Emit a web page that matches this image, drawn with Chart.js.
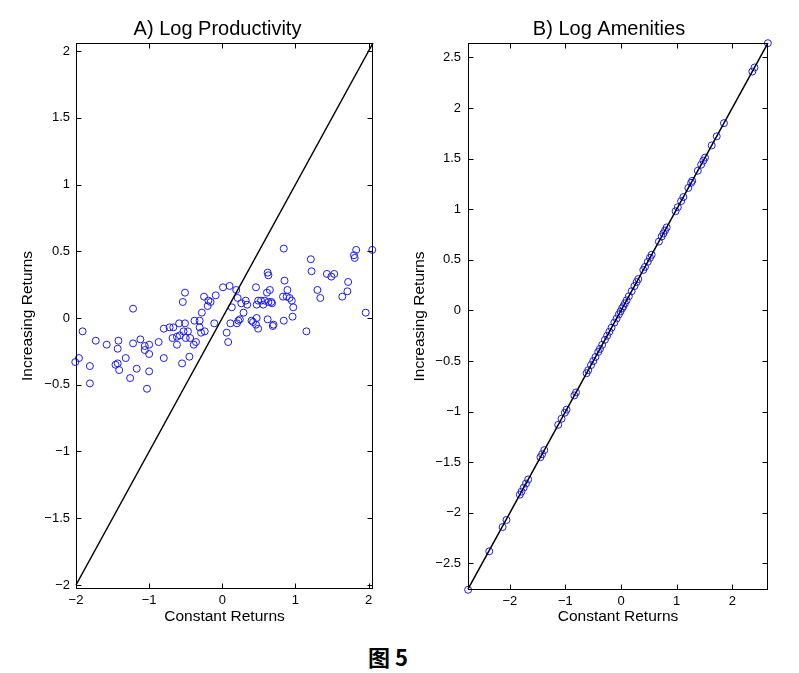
<!DOCTYPE html>
<html>
<head>
<meta charset="utf-8">
<script src="https://cdn.jsdelivr.net/npm/chart.js@4/dist/chart.umd.min.js"></script>
<style>
  body { margin: 0; background: #fff; width: 799px; height: 673px; overflow: hidden; position: relative; }
  canvas { position: absolute; top: 0; }
  #chartA { left: 0; }
  #chartB { left: 400px; }
  #caption { position: absolute; left: 0; width: 776px; top: 640px; text-align: center;
             font: bold 22px "Noto Sans CJK SC", sans-serif; color: #000; }
</style>
</head>
<body>
<canvas id="chartA" width="400" height="640"></canvas>
<canvas id="chartB" width="399" height="640"></canvas>
<div id="caption">图 5</div>
<script>
// A) Log Productivity: constant returns (x) vs increasing returns (y)
const prodX = [-2.01,-1.96,-1.91,-1.81,-1.81,-1.73,-1.58,-1.46,-1.43,-1.41,-1.42,-1.43,-1.32,-1.26,-1.22,-1.22,-1.17,-1.12,-1.06,-1.06,-1.03,-1.00,-1.00,-1.00,-0.87,-0.80,-0.80,
  -0.51,-0.54,-0.25,-0.19,-0.16,-0.09,-0.20,-0.28,-0.38,-0.31,-0.11,-0.72,-0.67,-0.59,-0.51,-0.53,-0.47,-0.68,-0.62,-0.58,-0.50,-0.44,-0.31,-0.29,-0.24,-0.62,-0.36,-0.39,-0.45,-0.55,
  0.01,0.10,0.19,0.21,0.26,0.32,0.34,0.29,0.24,0.22,0.20,0.11,0.40,0.42,0.47,0.46,0.49,0.06,0.08,0.46,0.47,0.53,0.56,0.58,0.62,0.63,0.61,0.65,0.62,0.69,0.67,0.63,0.68,0.13,0.49,
  0.84,1.21,1.83,1.80,1.81,2.05,1.22,1.43,1.49,1.53,1.72,1.71,1.30,1.34,1.64,0.85,0.89,0.83,0.88,0.92,0.95,0.97,0.96,0.84,0.70,1.15,1.96];
const prodY = [-0.33,-0.30,-0.10,-0.36,-0.49,-0.17,-0.20,-0.35,-0.34,-0.39,-0.17,-0.23,-0.30,-0.45,0.07,-0.19,-0.38,-0.16,-0.21,-0.24,-0.53,-0.20,-0.27,-0.40,-0.18,-0.08,-0.30,
  0.19,0.12,0.16,0.13,0.12,0.17,0.09,0.04,-0.02,-0.02,-0.04,-0.07,-0.07,-0.04,-0.04,-0.10,-0.10,-0.15,-0.14,-0.13,-0.15,-0.15,-0.07,-0.11,-0.10,-0.20,-0.18,-0.20,-0.29,-0.34,
  0.23,0.24,0.21,0.15,0.11,0.13,0.10,0.04,-0.01,-0.02,-0.04,-0.04,-0.02,-0.03,0.00,-0.05,-0.08,-0.11,-0.18,0.23,0.10,0.13,0.10,0.13,0.34,0.32,0.19,0.21,-0.01,-0.06,0.12,0.12,0.11,0.08,0.13,
  0.52,0.44,0.51,0.47,0.45,0.51,0.35,0.33,0.31,0.33,0.27,0.20,0.21,0.15,0.16,0.28,0.21,0.16,0.16,0.15,0.13,0.08,0.01,-0.02,-0.05,-0.10,0.04];

// B) Log Amenities
const amenX = [-2.75,-2.37,-2.13,-2.06,-1.82,-1.79,-1.75,-1.71,-1.67,-1.45,-1.42,-1.38,-1.13,-1.07,-1.01,-0.98,-0.84,-0.81,
  -0.62,-0.59,-0.54,-0.50,-0.46,-0.41,-0.38,-0.34,-0.29,-0.25,-0.21,-0.17,-0.12,-0.08,-0.04,-0.01,0.02,0.04,0.07,0.10,0.14,0.19,0.24,0.28,0.31,
  0.40,0.43,0.48,0.52,0.55,0.68,0.73,0.76,0.79,0.82,0.98,1.02,1.08,1.12,1.21,1.26,1.28,1.38,1.44,1.48,1.51,1.63,1.72,1.85,2.36,2.40,2.64];
const amenY = [-2.76,-2.38,-2.14,-2.07,-1.82,-1.79,-1.75,-1.71,-1.67,-1.45,-1.42,-1.38,-1.13,-1.07,-1.01,-0.98,-0.84,-0.81,
  -0.62,-0.59,-0.54,-0.50,-0.46,-0.41,-0.38,-0.34,-0.29,-0.25,-0.21,-0.17,-0.12,-0.08,-0.04,-0.01,0.02,0.04,0.07,0.10,0.14,0.19,0.24,0.28,0.31,
  0.40,0.43,0.48,0.52,0.55,0.68,0.73,0.76,0.79,0.82,0.98,1.02,1.08,1.12,1.21,1.26,1.28,1.38,1.44,1.48,1.51,1.63,1.72,1.85,2.36,2.40,2.64];

// 45 degree reference lines (data units)
const diagA = [-2, 2.06];
const diagB = [-2.75, 2.64];

// Tick labels
const xTicksA = [-2, -1, 0, 1, 2];
const yTicksA = [-2, -1.5, -1, -0.5, 0, 0.5, 1, 1.5, 2];
const xTicksB = [-2, -1, 0, 1, 2];
const yTicksB = [-2.5, -2, -1.5, -1, -0.5, 0, 0.5, 1, 1.5, 2, 2.5];

const FONT = '"Liberation Sans", Arial, sans-serif';

// MATLAB style box: frame, inward ticks on all sides, title over the axes
const matlabBox = {
  id: 'matlabBox',
  afterDraw(chart, args, opts) {
    const { ctx, chartArea: a, scales } = chart;
    const L = Math.round(a.left) + 0.5, R = Math.round(a.right) - 0.5;
    const T = Math.round(a.top) + 0.5, B = Math.round(a.bottom) - 0.5;
    ctx.save();
    ctx.strokeStyle = '#000';
    ctx.lineWidth = 1;
    ctx.strokeRect(L, T, R - L, B - T);
    ctx.beginPath();
    scales.x.ticks.forEach(t => {
      const px = Math.round(scales.x.getPixelForValue(t.value)) + 0.5;
      ctx.moveTo(px, B); ctx.lineTo(px, B - 5);
      ctx.moveTo(px, T); ctx.lineTo(px, T + 5);
    });
    scales.y.ticks.forEach(t => {
      const py = Math.round(scales.y.getPixelForValue(t.value)) + 0.5;
      ctx.moveTo(L, py); ctx.lineTo(L + 5, py);
      ctx.moveTo(R, py); ctx.lineTo(R - 5, py);
    });
    ctx.stroke();
    ctx.fillStyle = '#000';
    ctx.font = '20px ' + FONT;
    ctx.textAlign = 'center';
    ctx.textBaseline = 'middle';
    ctx.fillText(opts.title, (a.left + a.right) / 2 + (opts.shift || 0), 29);
    ctx.restore();
  }
};

const fmt = v => String(v).replace('-', '\u2212');

function makeChart(id, xs, ys, diag, xTicks, yTicks, lim, box) {
  const points = xs.map((x, i) => ({ x: x, y: ys[i] }));
  return new Chart(document.getElementById(id), {
    type: 'scatter',
    data: {
      datasets: [
        {
          data: diag.map(v => ({ x: v, y: v })),
          showLine: true,
          borderColor: '#000',
          borderWidth: 1.5,
          pointRadius: 0,
          fill: false,
          clip: false
        },
        {
          data: points,
          pointStyle: 'circle',
          pointRadius: 3.5,
          pointBorderWidth: 1,
          pointBorderColor: '#1a1aff',
          pointBackgroundColor: 'rgba(0,0,0,0)',
          showLine: false,
          clip: false
        }
      ]
    },
    options: {
      responsive: false,
      animation: false,
      layout: { padding: { top: 43, right: box.padRight, left: 0, bottom: 0 } },
      plugins: {
        legend: { display: false },
        tooltip: { enabled: false },
        matlabBox: { title: box.title, shift: box.shift }
      },
      scales: {
        x: {
          type: 'linear',
          min: lim[0], max: lim[1],
          grid: { display: false, drawTicks: false },
          border: { display: false },
          afterBuildTicks: s => { s.ticks = xTicks.map(v => ({ value: v })); },
          afterFit: s => { s.height = box.xHeight; },
          ticks: { color: '#000', font: { family: FONT, size: 13 }, padding: 4, maxRotation: 0, callback: fmt },
          title: { display: true, text: 'Constant Returns', color: '#000',
                   font: { family: FONT, size: 15.5 }, padding: { top: 4, bottom: 13.7 } }
        },
        y: {
          type: 'linear',
          min: lim[2], max: lim[3],
          grid: { display: false, drawTicks: false },
          border: { display: false },
          afterBuildTicks: s => { s.ticks = yTicks.map(v => ({ value: v })); },
          afterFit: s => { s.width = box.yWidth; },
          ticks: { color: '#000', font: { family: FONT, size: 13 }, padding: box.tickPad, callback: fmt },
          title: { display: true, text: 'Increasing Returns', color: '#000',
                   font: { family: FONT, size: 15.5 }, padding: { top: box.yTitlePad, bottom: 4 } }
        }
      }
    },
    plugins: [matlabBox]
  });
}

makeChart('chartA', prodX, prodY, diagA, xTicksA, yTicksA, [-2, 2.06, -2.03, 2.06],
  { title: 'A) Log Productivity', shift: -7, padRight: 27, xHeight: 51, yWidth: 76, tickPad: 6, yTitlePad: 18.7 });
makeChart('chartB', amenX, amenY, diagB, xTicksB, yTicksB, [-2.752, 2.642, -2.762, 2.642],
  { title: 'B) Log Amenities', shift: -9, padRight: 31, xHeight: 50, yWidth: 68, tickPad: 7, yTitlePad: 10.7 });
</script>
</body>
</html>
